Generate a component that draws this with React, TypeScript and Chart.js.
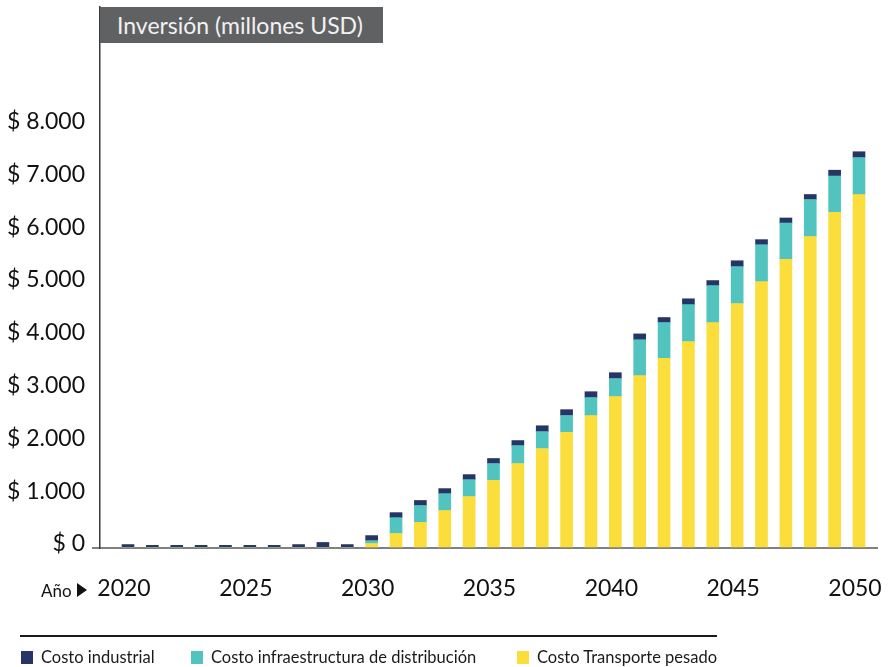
import React, { useEffect, useRef } from 'react';
import { Chart, registerables } from 'chart.js';

Chart.register(...registerables);

// ---- Data ----
const years = [
  2020, 2021, 2022, 2023, 2024, 2025, 2026, 2027, 2028, 2029,
  2030, 2031, 2032, 2033, 2034, 2035, 2036, 2037, 2038, 2039,
  2040, 2041, 2042, 2043, 2044, 2045, 2046, 2047, 2048, 2049, 2050,
];
const costoIndustrial = [
  65, 50, 50, 50, 50, 50, 50, 65, 105, 65,
  95, 95, 95, 95, 95, 95, 95, 110, 110, 110,
  110, 110, 95, 110, 95, 110, 95, 95, 95, 110, 110,
];
const costoInfraestructura = [
  0, 0, 0, 0, 0, 0, 0, 0, 0, 0,
  55, 300, 320, 320, 320, 320, 340, 320, 320, 340,
  340, 680, 680, 700, 700, 700, 700, 690, 700, 690, 700,
];
const costoTransporte = [
  0, 0, 0, 0, 0, 0, 0, 0, 0, 0,
  85, 275, 485, 710, 975, 1280, 1600, 1885, 2190, 2510,
  2870, 3265, 3590, 3910, 4270, 4630, 5045, 5465, 5900, 6355, 6695,
];
const seriesLabels = [
  'Costo industrial',
  'Costo infraestructura de distribución',
  'Costo Transporte pesado',
];
const yTickValues = [0, 1000, 2000, 3000, 4000, 5000, 6000, 7000, 8000];
const xTickValues = [2020, 2025, 2030, 2035, 2040, 2045, 2050];
const titleText = 'Inversión (millones USD)';
const xAxisName = 'Año';

// ---- Style ----
const NAVY = '#263566';
const TEAL = '#52c4c0';
const YELLOW = '#fbdd3c';
const FONT = 'Lato, "Noto Sans", sans-serif';
const seriesColors = [NAVY, TEAL, YELLOW];

const fmt = (v: number) =>
  '$ ' + String(v).replace(/\B(?=(\d{3})+(?!\d))/g, '.');

export default function App() {
  const ref = useRef<HTMLCanvasElement>(null);

  useEffect(() => {
    if (!ref.current) return;
    const chart = new Chart(ref.current, {
      type: 'bar',
      data: {
        labels: years,
        datasets: [
          { label: seriesLabels[2], data: costoTransporte, backgroundColor: YELLOW, barThickness: 12 },
          { label: seriesLabels[1], data: costoInfraestructura, backgroundColor: TEAL, barThickness: 12 },
          { label: seriesLabels[0], data: costoIndustrial, backgroundColor: NAVY, barThickness: 12 },
        ],
      },
      options: {
        animation: false,
        responsive: false,
        maintainAspectRatio: false,
        layout: { padding: { top: 7, right: 16, left: 0, bottom: 0 } },
        plugins: {
          legend: { display: false },
          tooltip: { enabled: false },
          title: { display: false },
        },
        scales: {
          x: {
            type: 'linear',
            stacked: true,
            min: 2018.851,
            max: 2050.739,
            offset: false,
            z: 1,
            grid: { display: false },
            border: { display: true, color: '#808080', width: 2 },
            afterBuildTicks: (s: any) => {
              s.ticks = xTickValues.map((v) => ({ value: v }));
            },
            ticks: {
              autoSkip: false,
              maxRotation: 0,
              padding: 19,
              labelOffset: -4,
              color: '#111111',
              font: { family: FONT, size: 23 },
              callback: (v: any) => String(v),
            },
            afterFit: (s: any) => {
              s.height = 119;
              s.paddingLeft = 0;
              s.paddingRight = 0;
            },
          },
          y: {
            stacked: true,
            min: 0,
            max: 10246,
            grid: {
              display: true,
              drawOnChartArea: false,
              drawTicks: true,
              tickLength: 8,
              lineWidth: 2,
              color: (ctx: any) =>
                ctx.tick && ctx.tick.value === 0 ? '#808080' : 'rgba(0,0,0,0)',
            },
            border: { display: true, color: '#3a3a3a', width: 1.5 },
            afterBuildTicks: (s: any) => {
              s.ticks = yTickValues.map((v) => ({ value: v }));
            },
            ticks: {
              padding: 7,
              labelOffset: -4,
              color: '#111111',
              font: { family: FONT, size: 23 },
              callback: (v: any) => fmt(v),
            },
            afterFit: (s: any) => {
              s.width = 100;
              s.paddingTop = 0;
              s.paddingBottom = 0;
            },
          },
        },
      },
    } as any);
    return () => chart.destroy();
  }, []);

  const legendLeft = [21, 191, 517];

  return (
    <div
      style={{
        position: 'fixed',
        left: 0,
        top: 0,
        width: 893,
        height: 667,
        background: '#ffffff',
        fontFamily: FONT,
        overflow: 'hidden',
      }}
    >
      <canvas
        ref={ref}
        width={893}
        height={667}
        style={{ position: 'absolute', left: 0, top: 0, width: 893, height: 667 }}
      />
      <div
        style={{
          position: 'absolute',
          left: 100,
          top: 7,
          width: 283,
          height: 36,
          background: '#606163',
          color: '#f2f2f2',
          fontSize: 23,
          lineHeight: '36px',
          paddingLeft: 17,
          boxSizing: 'border-box',
          whiteSpace: 'nowrap',
        }}
      >
        {titleText}
      </div>
      <div
        style={{
          position: 'absolute',
          left: 41,
          top: 578,
          height: 24,
          display: 'flex',
          alignItems: 'center',
          color: '#111111',
          fontSize: 17,
        }}
      >
        <span>{xAxisName}</span>
        <span
          style={{
            display: 'inline-block',
            width: 0,
            height: 0,
            marginLeft: 5,
            borderLeft: '10px solid #111111',
            borderTop: '7px solid transparent',
            borderBottom: '7px solid transparent',
          }}
        />
      </div>
      <div
        style={{
          position: 'absolute',
          left: 20,
          top: 635,
          width: 697,
          height: 1.5,
          background: '#1a1a1a',
        }}
      />
      {seriesLabels.map((lab, i) => (
        <div
          key={lab}
          style={{
            position: 'absolute',
            left: legendLeft[i],
            top: 648,
            height: 18,
            display: 'flex',
            alignItems: 'center',
            whiteSpace: 'nowrap',
            fontSize: 16.5,
            color: '#1a1a1a',
          }}
        >
          <span
            style={{
              display: 'inline-block',
              width: 12,
              height: 13,
              background: seriesColors[i],
              marginRight: 8,
            }}
          />
          <span>{lab}</span>
        </div>
      ))}
    </div>
  );
}
